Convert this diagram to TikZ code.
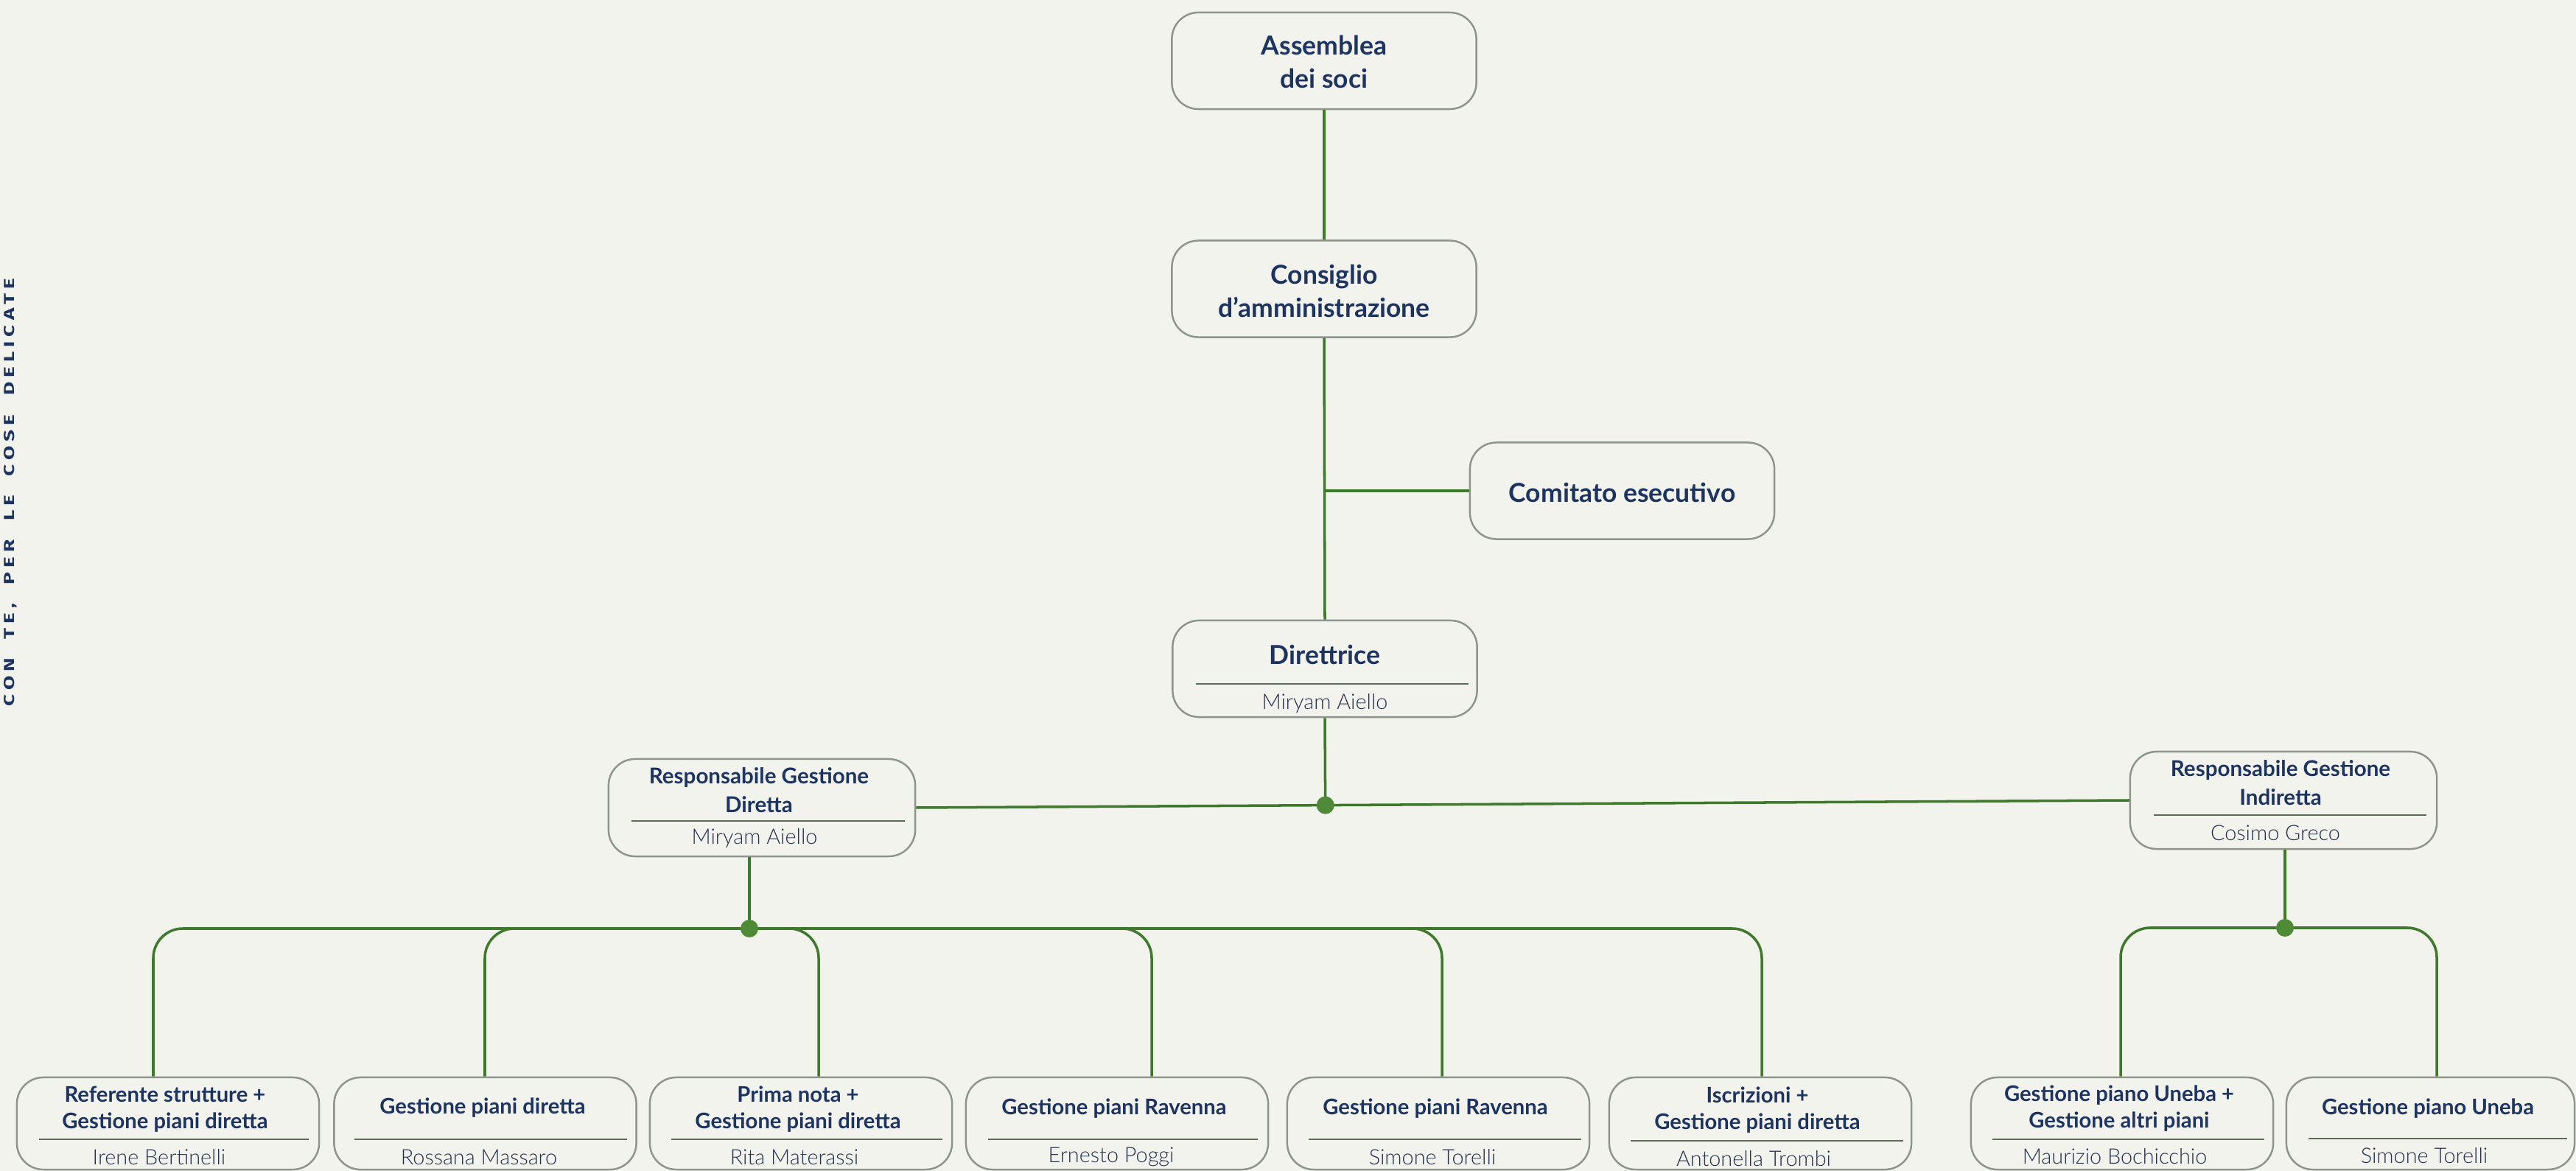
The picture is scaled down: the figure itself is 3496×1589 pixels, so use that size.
\documentclass[tikz,border=0pt]{standalone}
\usepackage{fontspec}
\setmainfont{Lato}
\newfontfamily\namefont{Lato Light}
\newfontfamily\sidefont[LetterSpace=22]{Fira Sans}
\usetikzlibrary{calc}
\definecolor{bg}{HTML}{F3F3EE}
\definecolor{navy}{HTML}{1D3461}
\definecolor{namec}{HTML}{26314F}
\definecolor{lgreen}{HTML}{3F7A2C}
\definecolor{dotg}{HTML}{4F8B36}
\definecolor{boxline}{HTML}{8D958A}
\definecolor{divc}{HTML}{5E6B5A}
\tikzset{
  box/.style={draw=boxline, line width=0.7pt, rounded corners=0.36cm, fill=bg, inner sep=0pt},
  bigbox/.style={box, minimum width=4.13cm, minimum height=1.31cm},
  midbox/.style={box, minimum width=4.16cm, minimum height=1.32cm},
  smallbox/.style={box, minimum width=4.10cm, minimum height=1.25cm},
  conn/.style={draw=lgreen, line width=1pt},
  bus/.style={conn, rounded corners=0.4cm},
  dv/.style={draw=divc, line width=0.6pt},
  jdot/.style={circle, fill=dotg, inner sep=0pt, minimum size=0.24cm},
  tbig/.style={font=\fontsize{10.1}{12.8}\selectfont\bfseries, text=navy, align=center, inner sep=0pt},
  tmid/.style={font=\fontsize{8.4}{11.1}\selectfont\bfseries, text=navy, align=center, inner sep=0pt},
  tsm/.style={font=\fontsize{8.3}{10.2}\selectfont\bfseries, text=navy, align=center, inner sep=0pt},
  tname/.style={font=\fontsize{8.2}{10}\selectfont\namefont, text=namec, inner sep=0pt},
}
\begin{document}
\begin{tikzpicture}[x=0.01cm, y=-0.01cm]
\useasboundingbox (0,0) rectangle (3496,1589);
\fill[bg] (0,0) rectangle (3496,1589);

% side text
\node[rotate=90, text=navy, inner sep=0pt] (side) at (14,668)
  {\resizebox{5.8cm}{0.14cm}{\sidefont\bfseries CON~ TE,~ PER~ LE~ COSE~ DELICATE}};

% top chain
\node[bigbox] (A) at (1797,82.5) {};
\node[tbig] (At) at (1797,84) {Assemblea\\dei soci};
\node[bigbox] (C) at (1797,392) {};
\node[tbig] (Ct) at (1797,395) {Consiglio\\d’amministrazione};
\node[bigbox] (CE) at (2201.5,666) {};
\node[tbig] (CEt) at (2201.5,668) {Comitato esecutivo};
\node[bigbox] (D) at (1798,907.5) {};
\node[tbig] (Dt) at (1798,888) {Direttrice};
\node[tname] (Dn) at (1798,955) {Miryam Aiello};
\draw[dv] (1623,928) -- (1993,928);

% responsabili
\node[midbox] (RD) at (1034,1096) {};
\node[tmid] (RDt) at (1030,1072) {Responsabile Gestione\\Diretta};
\node[tname] (RDn) at (1024,1138) {Miryam Aiello};
\draw[dv] (857,1114) -- (1228,1114);
\node[midbox] (RI) at (3099,1086) {};
\node[tmid] (RIt) at (3095,1062) {Responsabile Gestione\\Indiretta};
\node[tname] (RIn) at (3088,1130) {Cosimo Greco};
\draw[dv] (2923,1106) -- (3293,1106);

% bottom boxes
\node[smallbox] (B1) at (228,1524.5) {};
\node[tsm] (B1t) at (224,1505) {Referente strutture +\\Gestione piani diretta};
\node[tname] (B1n) at (216,1570) {Irene Bertinelli};
\draw[dv] (53,1546) -- (419,1546);

\node[smallbox] (B2) at (658.5,1524.5) {};
\node[tsm] (B2t) at (655,1503) {Gestione piani diretta};
\node[tname] (B2n) at (650,1570) {Rossana Massaro};
\draw[dv] (481,1546) -- (851,1546);

\node[smallbox] (B3) at (1087,1524.5) {};
\node[tsm] (B3t) at (1083,1505) {Prima nota +\\Gestione piani diretta};
\node[tname] (B3n) at (1078,1570) {Rita Materassi};
\draw[dv] (911,1546) -- (1279,1546);

\node[smallbox] (B4) at (1516,1524.5) {};
\node[tsm] (B4t) at (1512,1504) {Gestione piani Ravenna};
\node[tname] (B4n) at (1508,1570) {Ernesto Poggi};
\draw[dv] (1341,1546) -- (1707,1546);

\node[smallbox] (B5) at (1952,1524.5) {};
\node[tsm] (B5t) at (1948,1504) {Gestione piani Ravenna};
\node[tname] (B5n) at (1944,1570) {Simone Torelli};
\draw[dv] (1776,1546) -- (2146,1546);

\node[smallbox] (B6) at (2389,1524.5) {};
\node[tsm] (B6t) at (2385,1506) {Iscrizioni +\\Gestione piani diretta};
\node[tname] (B6n) at (2380,1572) {Antonella Trombi};
\draw[dv] (2213,1548) -- (2583,1548);

\node[smallbox] (B7) at (2880,1524.5) {};
\node[tsm] (B7t) at (2876,1504) {Gestione piano Uneba +\\Gestione altri piani};
\node[tname] (B7n) at (2870,1569) {Maurizio Bochicchio};
\draw[dv] (2704,1546) -- (3073,1546);

\node[box, minimum width=3.91cm, minimum height=1.25cm] (B8) at (3298.5,1524.5) {};
\node[tsm] (B8t) at (3295,1504) {Gestione piano Uneba};
\node[tname] (B8n) at (3290,1568) {Simone Torelli};
\draw[dv] (3133,1545) -- (3484,1545);

% connectors
\draw[conn] (A.south) -- (C.north);
\draw[conn] (C.south) -- (D.north);
\draw[conn] (CE.west) -- (CE.west -| C.south);
\draw[conn] (RD.east) -- (RI.west);
\coordinate (jm) at ($(RD.east)!(D.south)!(RI.west)$);
\draw[conn] (D.south) -- (jm);

\coordinate (jd) at (1017,1260);
\draw[conn] (RD.south -| jd) -- (jd);
\foreach \b/\x in {B1/208, B2/658, B3/1111, B4/1563, B5/1957, B6/2391} {
  \coordinate (k\b) at (\x,1260);
  \draw[bus] (jd) -- (k\b) -- (k\b |- \b.north);
}
\coordinate (ji) at (3101,1259);
\draw[conn] (RI.south -| ji) -- (ji);
\foreach \b/\x in {B7/2878, B8/3307} {
  \coordinate (k\b) at (\x,1259);
  \draw[bus] (ji) -- (k\b) -- (k\b |- \b.north);
}

\node[jdot] (dm) at (jm) {};
\node[jdot] (dd) at (jd) {};
\node[jdot] (di) at (ji) {};
\end{tikzpicture}
\end{document}
